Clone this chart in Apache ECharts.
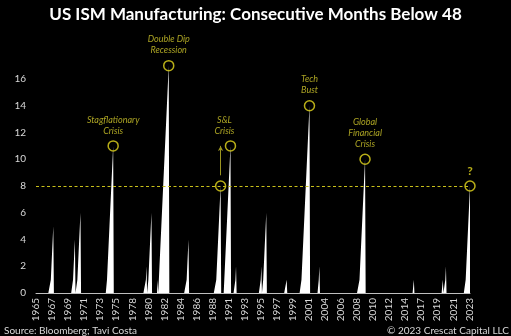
<!DOCTYPE html>
<html><head><meta charset="utf-8">
<script src="https://cdn.jsdelivr.net/npm/echarts@6/dist/echarts.min.js"></script>
<style>html,body{margin:0;padding:0;background:#000;}#c{width:511px;height:336px;}</style>
</head><body><div id="c"></div>
<script>
// ---- data ----
const firstYear = 1965;
const lastMonth = '2023-08';
// start month of each run below 48, and the run's counter values
const episodeStart = ['1967-01','1970-01','1970-08','1974-08','1979-11','1980-03','1981-06','1981-08','1985-05','1989-05','1990-06','1991-12','1995-05','1995-09','1998-11','2000-11','2003-03','2008-09','2016-01','2019-12','2020-04','2023-01'];
const episodeValues = [
  [1,2,3,4,5],
  [1,2,3,4],
  [1,2,3,4,5,6],
  [1,2,3,4,5,6,7,8,9,10,11],
  [1,2],
  [1,2,3,4,5,6],
  [1],
  [1,2,3,4,5,6,7,8,9,10,11,12,13,14,15,16,17],
  [1,2,3,4],
  [1,2,3,4,5,6,7,8],
  [1,2,3,4,5,6,7,8,9,10,11],
  [1,2],
  [1,2],
  [1,2,3,4,5,6],
  [1],
  [1,2,3,4,5,6,7,8,9,10,11,12,13,14],
  [1,2],
  [1,2,3,4,5,6,7,8,9,10],
  [1],
  [1],
  [1,2],
  [1,2,3,4,5,6,7,8]
];
const circledMonths = ['1975-06','1982-12','1989-12','1991-04','2001-12','2009-06','2023-08'];
const circleLabels = ['Stagflationary\nCrisis','Double Dip\nRecession','','S&L\nCrisis','Tech\nBust','Global\nFinancial\nCrisis','?'];
const threshold = 8;
const yTickLabels = ['0','2','4','6','8','10','12','14','16'];

// ---- build ----
const months = [];
outer: for (let y = firstYear; y <= 2023; y++) {
  for (let m = 1; m <= 12; m++) {
    const k = y + '-' + String(m).padStart(2, '0');
    months.push(k);
    if (k === lastMonth) break outer;
  }
}
const values = months.map(() => 0);
episodeStart.forEach((s, i) => {
  const idx = months.indexOf(s);
  episodeValues[i].forEach((v, j) => { values[idx + j] = v; });
});

const YEL = '#e6da1e';
const TXT = '#d4ca2c';
const labelOffsets = {'1991-04': [-6, 0]};
const circleData = circledMonths.map((m, i) => {
  const it = {
    value: [m, values[months.indexOf(m)]],
    label: { formatter: circleLabels[i], offset: labelOffsets[m] || [0, 0] }
  };
  if (circleLabels[i] === '?') {
    it.label.fontStyle = 'normal';
    it.label.fontWeight = 'bold';
    it.label.fontSize = 12;
    it.label.color = YEL;
  }
  return it;
});

const chart = echarts.init(document.getElementById('c'));
chart.setOption({
  backgroundColor: '#000',
  animation: false,
  title: [
    { text: 'US ISM Manufacturing: Consecutive Months Below 48', left: 'center', top: 5, padding: 0,
      textStyle: { color: '#fff', fontSize: 17, fontWeight: 'bold', fontFamily: 'Lato', lineHeight: 20 } },
    { text: 'Source: Bloomberg; Tavi Costa', left: 4, top: 325, padding: 0,
      textStyle: { color: '#d9d9d9', fontSize: 10, fontWeight: 'normal', fontFamily: 'Lato', lineHeight: 12 } },
    { text: '© 2023 Crescat Capital LLC', right: 2, top: 325, padding: 0,
      textStyle: { color: '#d9d9d9', fontSize: 10, fontWeight: 'normal', fontFamily: 'Lato', lineHeight: 12 } }
  ],
  grid: { left: 36, right: 41, top: 52.25, bottom: 43 },
  xAxis: {
    type: 'category', data: months, boundaryGap: false,
    axisLine: { lineStyle: { color: '#bfbfbf', width: 1 } },
    axisTick: { show: false },
    axisLabel: { interval: 25, rotate: 90, margin: 5, color: '#d9d9d9', fontSize: 10, fontFamily: 'Lato',
      formatter: v => v.slice(0, 4) },
    splitLine: { show: false }
  },
  yAxis: {
    type: 'value', min: 0, max: 18, interval: 2,
    axisLine: { show: false }, axisTick: { show: false }, splitLine: { show: false },
    axisLabel: { color: '#d9d9d9', fontSize: 10, fontFamily: 'Lato', margin: 10, showMaxLabel: false,
      formatter: v => yTickLabels.includes(String(v)) ? String(v) : '' }
  },
  series: [
    {
      type: 'line', data: values, symbol: 'none', z: 2,
      lineStyle: { width: 0, opacity: 0 },
      areaStyle: { color: '#ffffff', opacity: 1 },
      markLine: {
        silent: true, symbol: 'none', animation: false,
        label: { show: false },
        lineStyle: { color: '#c9c01a', type: [3, 2.5], width: 1 },
        data: [{ yAxis: threshold }]
      }
    },
    {
      type: 'scatter', data: [], z: 3,
      markLine: {
        silent: true, animation: false, label: { show: false },
        lineStyle: { color: '#9c9520', type: 'solid', width: 1 },
        data: [[
          { coord: ['1989-12', 8.8], symbol: 'none' },
          { coord: ['1989-12', 11.0], symbol: 'arrow', symbolSize: [4, 5] }
        ]]
      }
    },
    {
      type: 'scatter', data: circleData, symbol: 'circle', symbolSize: 10, z: 4,
      itemStyle: { color: 'rgba(0,0,0,0)', borderColor: YEL, borderWidth: 1.5 },
      label: { show: true, position: 'top', distance: 4, color: TXT, fontSize: 9, fontStyle: 'italic',
        fontFamily: 'Lato', lineHeight: 11, align: 'center' }
    }
  ]
});
</script></body></html>
